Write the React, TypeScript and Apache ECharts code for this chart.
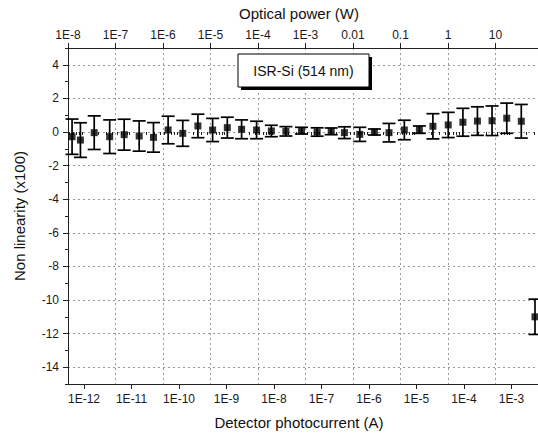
import React, { useEffect, useRef } from "react";
import * as echarts from "echarts";

// Detector photocurrent (A) of each measurement
const photocurrent = [
  5.6e-13, 8.4e-13, 1.64e-12, 3.47e-12, 7.0e-12, 1.45e-11, 2.9e-11, 5.9e-11,
  1.2e-10, 2.5e-10, 5.1e-10, 1.04e-9, 2.08e-9, 4.3e-9, 8.8e-9, 1.78e-8,
  3.8e-8, 8.1e-8, 1.6e-7, 3.04e-7, 6.4e-7, 1.3e-6, 2.64e-6, 5.55e-6,
  1.15e-5, 2.22e-5, 4.66e-5, 9.5e-5, 1.92e-4, 3.9e-4, 7.96e-4, 1.61e-3,
  3.13e-3,
];
// Non linearity (x100)
const nonLinearity = [
  -0.28, -0.48, -0.04, -0.28, -0.16, -0.24, -0.32, 0.12, -0.08, 0.36, 0.12,
  0.26, 0.16, 0.12, 0.06, 0.04, 0.08, 0.0, 0.04, -0.04, -0.14, 0.0, -0.04,
  0.12, 0.14, 0.34, 0.42, 0.58, 0.65, 0.67, 0.82, 0.64, -11.0,
];
// Error bar half-length (x100)
const errorBar = [
  1.05, 1.03, 1.0, 1.0, 0.92, 0.9, 0.88, 0.82, 0.77, 0.7, 0.69, 0.62, 0.56,
  0.52, 0.34, 0.28, 0.2, 0.25, 0.2, 0.35, 0.42, 0.18, 0.55, 0.58, 0.22, 0.75,
  0.75, 0.83, 0.85, 0.88, 0.9, 1.0, 1.05,
];

const bottomTicks = [1e-12, 1e-11, 1e-10, 1e-9, 1e-8, 1e-7, 1e-6, 1e-5, 1e-4, 1e-3];
const bottomLabels = ["1E-12", "1E-11", "1E-10", "1E-9", "1E-8", "1E-7", "1E-6", "1E-5", "1E-4", "1E-3"];
const topTicks = [1e-8, 1e-7, 1e-6, 1e-5, 1e-4, 1e-3, 0.01, 0.1, 1, 10];
const topLabels = ["1E-8", "1E-7", "1E-6", "1E-5", "1E-4", "1E-3", "0.01", "0.1", "1", "10"];
const yTicks = [-14, -12, -10, -8, -6, -4, -2, 0, 2, 4];
const yMinorTicks = [-15, -13, -11, -9, -7, -5, -3, -1, 1, 3, 5];

const bottomMin = 4.6e-13;
const bottomMax = 3.62e-3;
const topMin = 1e-8;
const topMax = 78.5;

const labelFor = (ticks: number[], labels: string[]) => (v: number) => {
  const lv = Math.log10(v);
  for (let i = 0; i < ticks.length; i++) {
    if (Math.abs(Math.log10(ticks[i]) - lv) < 1e-6) return labels[i];
  }
  return "";
};

const minorBottom: number[] = [];
for (let e = -13; e <= -3; e++) {
  for (let m = 2; m <= 9; m++) {
    const v = m * Math.pow(10, e);
    if (v >= bottomMin && v <= bottomMax) minorBottom.push(v);
  }
}

const FONT = "Arial, 'Liberation Sans', sans-serif";
const AX = "#222";
const GRID = { color: "#9a9a9a", width: 1, type: [2, 3] as any };

export default function App() {
  const ref = useRef<HTMLDivElement>(null);
  useEffect(() => {
    if (!ref.current) return;
    const chart = echarts.init(ref.current, null, { renderer: "svg" });
    const points = photocurrent.map((x, i) => [x, nonLinearity[i], errorBar[i]]);
    const option: any = {
      animation: false,
      backgroundColor: "#fff",
      textStyle: { fontFamily: FONT },
      grid: { left: 68, top: 48, right: 0, bottom: 53, containLabel: false },
      xAxis: [
        {
          type: "log",
          position: "bottom",
          min: bottomMin,
          max: bottomMax,
          name: "Detector photocurrent (A)",
          nameLocation: "middle",
          nameGap: 31,
          nameTextStyle: { fontSize: 15, color: "#111", fontFamily: FONT, padding: [0, 8, 0, 0] },
          axisLine: { show: true, onZero: false, lineStyle: { color: AX, width: 1 } },
          axisTick: { show: true, inside: false, length: 5, customValues: bottomTicks, lineStyle: { color: AX } },
          axisLabel: {
            customValues: bottomTicks,
            formatter: labelFor(bottomTicks, bottomLabels),
            fontSize: 12,
            color: "#1a1a1a",
            margin: 9,
            fontFamily: FONT,
          },
          splitLine: { show: false },
        },
        {
          type: "log",
          position: "top",
          min: topMin,
          max: topMax,
          name: "Optical power (W)",
          nameLocation: "middle",
          nameGap: 27,
          nameTextStyle: { fontSize: 15, color: "#111", fontFamily: FONT, padding: [0, 8, 0, 0] },
          axisLine: { show: true, onZero: false, lineStyle: { color: AX, width: 1 } },
          axisTick: { show: true, inside: false, length: 5, customValues: topTicks, lineStyle: { color: AX } },
          axisLabel: {
            customValues: topTicks,
            formatter: labelFor(topTicks, topLabels),
            fontSize: 12,
            color: "#1a1a1a",
            margin: 7,
            fontFamily: FONT,
          },
          splitLine: { show: true, lineStyle: GRID },
        },
        {
          type: "log",
          position: "bottom",
          min: bottomMin,
          max: bottomMax,
          axisLine: { show: false },
          axisTick: { show: true, inside: false, length: 3, customValues: minorBottom, lineStyle: { color: AX } },
          axisLabel: { show: false },
          splitLine: { show: false },
        },
      ],
      yAxis: [
        {
          type: "value",
          min: -15,
          max: 5,
          position: "left",
          name: "Non linearity (x100)",
          nameLocation: "middle",
          nameGap: 41,
          nameTextStyle: { fontSize: 15, color: "#111", fontFamily: FONT },
          axisLine: { show: true, onZero: false, lineStyle: { color: AX, width: 1 } },
          axisTick: { show: true, inside: false, length: 5, customValues: yTicks, lineStyle: { color: AX } },
          axisLabel: { customValues: yTicks, fontSize: 12, color: "#1a1a1a", margin: 9, fontFamily: FONT },
          splitLine: { show: true, lineStyle: GRID },
        },
        {
          type: "value",
          min: -15,
          max: 5,
          position: "left",
          axisLine: { show: false },
          axisTick: { show: true, inside: false, length: 3, customValues: yMinorTicks, lineStyle: { color: AX } },
          axisLabel: { show: false },
          splitLine: { show: false },
        },
      ],
      series: [
        {
          type: "custom",
          xAxisIndex: 0,
          yAxisIndex: 0,
          data: points,
          encode: { x: 0, y: 1 },
          renderItem: (params: any, api: any) => {
            const x = api.value(0);
            const y = api.value(1);
            const e = api.value(2);
            const top = api.coord([x, y + e]);
            const bot = api.coord([x, y - e]);
            const hw = 6.5;
            const style = { stroke: "#000", lineWidth: 1.7, fill: null };
            return {
              type: "group",
              children: [
                { type: "line", shape: { x1: top[0], y1: top[1], x2: bot[0], y2: bot[1] }, style },
                { type: "line", shape: { x1: top[0] - hw, y1: top[1], x2: top[0] + hw, y2: top[1] }, style },
                { type: "line", shape: { x1: bot[0] - hw, y1: bot[1], x2: bot[0] + hw, y2: bot[1] }, style },
              ],
            };
          },
          z: 3,
        },
        {
          type: "scatter",
          xAxisIndex: 0,
          yAxisIndex: 0,
          data: points.map((p) => [p[0], p[1]]),
          symbol: "rect",
          symbolSize: 7,
          itemStyle: { color: "#000" },
          z: 4,
        },
      ],
      graphic: [
        { type: "rect", shape: { x: 241, y: 57, width: 131, height: 33 }, style: { fill: "#000" }, z: 10 },
        { type: "rect", shape: { x: 238, y: 54, width: 131, height: 33 }, style: { fill: "#fff", stroke: "#000", lineWidth: 1 }, z: 11 },
        {
          type: "text",
          x: 303.5,
          y: 70.5,
          style: { text: "ISR-Si (514 nm)", fontSize: 14, fontFamily: FONT, fill: "#111", align: "center", verticalAlign: "middle" },
          z: 12,
        },
      ],
    };
    chart.setOption(option);
    return () => chart.dispose();
  }, []);
  return <div ref={ref} style={{ position: "fixed", left: 0, top: 0, width: 538, height: 437 }} />;
}
